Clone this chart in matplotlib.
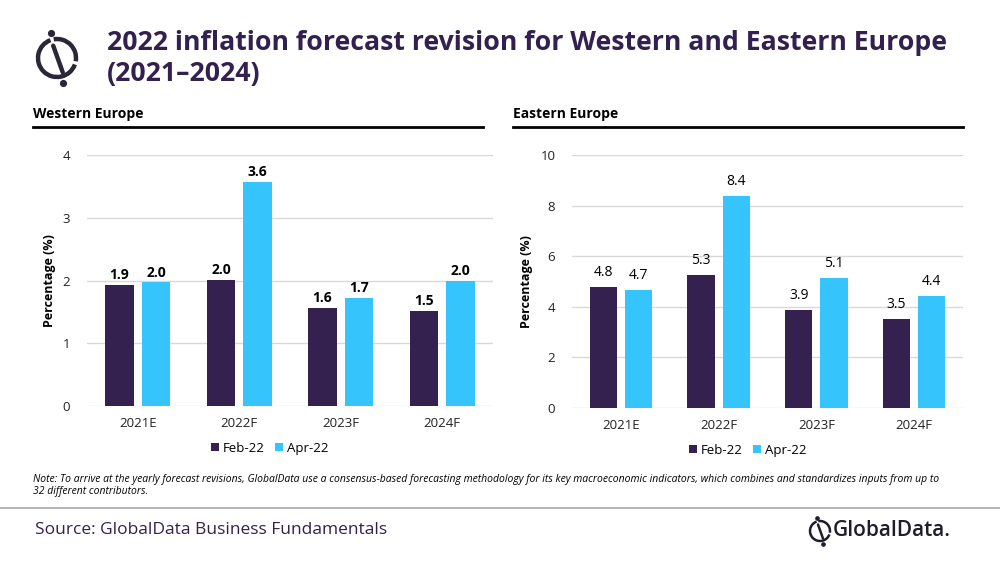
import matplotlib.pyplot as plt
from matplotlib.patches import Arc
import numpy as np

# data
categories = ['2021E', '2022F', '2023F', '2024F']
series_names = ['Feb-22', 'Apr-22']
west_feb = [1.93, 2.01, 1.56, 1.52]
west_apr = [1.97, 3.57, 1.72, 1.99]
east_feb = [4.79, 5.27, 3.87, 3.52]
east_apr = [4.66, 8.38, 5.14, 4.43]

DARK = '#35214f'
LIGHT = '#35c4fb'
TITLE = '#32204f'
GRID = '#d9d9d9'

plt.rcParams['font.family'] = ['Open Sans', 'DejaVu Sans']

fig = plt.figure(figsize=(10, 5.62), dpi=100)
fig.patch.set_facecolor('white')


def px(x, y):
    return x / 1000, 1 - y / 562


def draw_panel(rect, feb, apr, ymax, ystep, bold_labels, lab_off):
    ax = fig.add_axes(rect)
    x = np.arange(len(categories))
    w = 0.28
    off = 0.18
    ax.bar(x - off, feb, w, color=DARK, label=series_names[0], zorder=3)
    ax.bar(x + off, apr, w, color=LIGHT, label=series_names[1], zorder=3)
    weight = 'bold' if bold_labels else 'normal'
    for xs, vals in [(x - off, feb), (x + off, apr)]:
        for xi, v in zip(xs, vals):
            ax.annotate(f'{v:.1f}', (xi, v), xytext=(0, lab_off), textcoords='offset points',
                        ha='center', va='bottom', fontsize=10, fontweight=weight, color='black')
    ax.set_xlim(-0.5, 3.5)
    ax.set_ylim(0, ymax)
    ax.set_yticks(np.arange(0, ymax + 0.01, ystep))
    ax.set_xticks(x)
    ax.set_xticklabels(categories)
    ax.yaxis.grid(True, color=GRID, linewidth=1, zorder=0)
    ax.set_axisbelow(True)
    for s in ax.spines.values():
        s.set_visible(False)
    ax.tick_params(length=0, labelsize=9.5, colors='#222222')
    ax.tick_params(axis='y', pad=12)
    ax.tick_params(axis='x', pad=8)
    ax.set_ylabel('Percentage (%)', fontsize=9, fontweight='bold', labelpad=5)
    ax.legend(loc='upper center', bbox_to_anchor=(0.45, -0.095), ncol=2, frameon=False,
              fontsize=9.5, handlelength=0.6, handleheight=0.6, handletextpad=0.3,
              columnspacing=0.8)
    return ax


ax1 = draw_panel([0.087, 1 - 406 / 562, 0.406, 251 / 562], west_feb, west_apr, 4, 1, True, 2)
ax2 = draw_panel([0.572, 1 - 408 / 562, 0.391, 253 / 562], east_feb, east_apr, 10, 2, False, 5)

# title
fig.text(*px(107, 59), '2022 inflation forecast revision for Western and Eastern Europe\n(2021\u20132024)',
         fontsize=19.2, fontweight='bold', color=TITLE, ha='left', va='center', linespacing=1.25)

# panel headers
for x0, name in [(33, 'Western Europe'), (513, 'Eastern Europe')]:
    fig.text(*px(x0, 114), name, fontsize=10, fontweight='bold', ha='left', va='center')
    fig.add_artist(plt.Line2D([x0 / 1000, (x0 + 450) / 1000], [1 - 127 / 562] * 2,
                              color='black', linewidth=2))

# note
fig.text(*px(33, 474), 'Note: To arrive at the yearly forecast revisions, GlobalData use a consensus-based '
         'forecasting methodology for its key macroeconomic indicators, which combines and standardizes inputs from up to\n'
         '32 different contributors.', fontsize=7.5, style='italic', ha='left', va='top', linespacing=1.15)

fig.add_artist(plt.Line2D([0, 1], [1 - 508 / 562] * 2, color='#aaaaaa', linewidth=1.2))

fig.text(*px(35, 530), 'Source: GlobalData Business Fundamentals', fontsize=12.5, color=TITLE,
         ha='left', va='center')


def logo(cx, cy, r, color, lw):
    lax = fig.add_axes([(cx - r * 1.6) / 1000, 1 - (cy + r * 1.6) / 562, r * 3.2 / 1000, r * 3.2 / 562])
    lax.set_xlim(-1.6, 1.6)
    lax.set_ylim(-1.6, 1.6)
    lax.axis('off')
    lax.add_patch(Arc((0, 0), 2, 2, theta1=110, theta2=-20, color=color, lw=lw))
    lax.add_patch(Arc((0, 0), 2, 2, theta1=-10, theta2=100, color=color, lw=lw))
    lax.plot([-0.2, 0.3], [0.65, -0.75], color=color, lw=lw, solid_capstyle='round')
    lax.plot([-0.33], [1.3], 'o', color=color, ms=lw * 1.3)
    lax.plot([0.33], [-1.3], 'o', color=color, ms=lw * 1.3)


logo(57, 58, 19, '#2b2638', 3.2)
logo(820, 531, 10, '#1d1d2b', 1.8)
fig.text(*px(833, 531), 'GlobalData.', fontsize=15, fontweight='semibold', color='#1d1d2b',
         ha='left', va='center')

fig.savefig('out.png', dpi=100)
